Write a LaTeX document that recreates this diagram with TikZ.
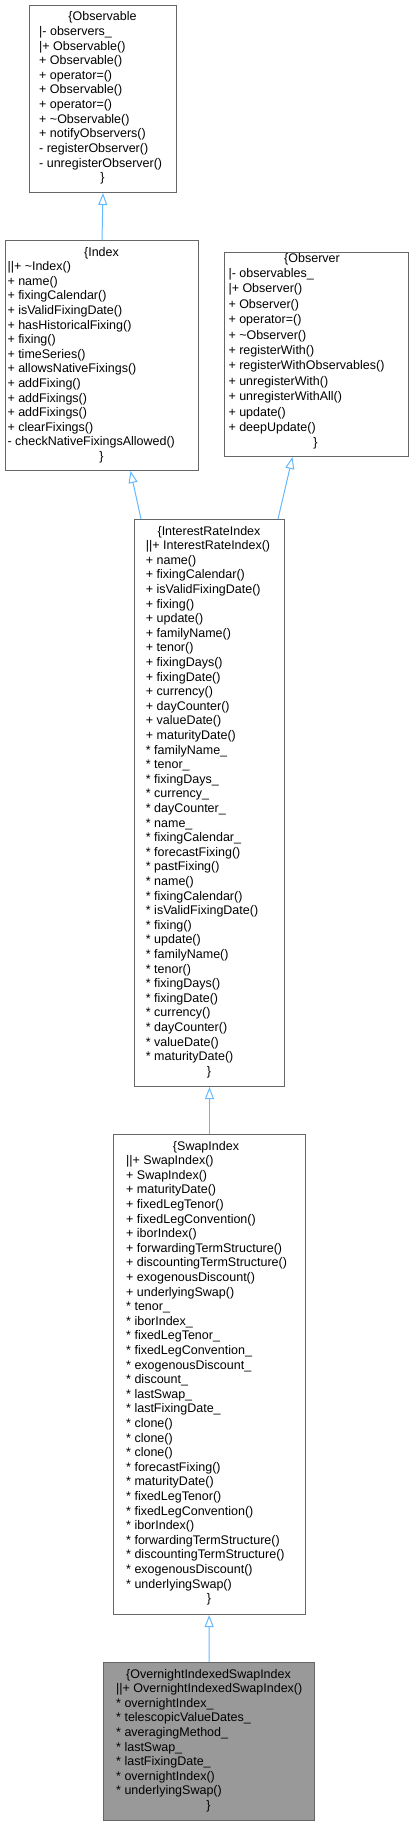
\documentclass[tikz,border=0pt]{standalone}
\usepackage{fontspec}
\setmainfont{Liberation Sans}
\usetikzlibrary{arrows.meta}
\definecolor{boxgray}{HTML}{666666}
\definecolor{leafgray}{HTML}{999999}
\definecolor{edgeblue}{HTML}{63B8FF}

\begin{document}
\begin{tikzpicture}[x=1pt,y=-1pt,
  class/.style={draw=boxgray,line width=1pt,fill=white,inner sep=0pt,anchor=north west},
  leaf/.style={class,fill=leafgray},
  title/.style={inner sep=0pt,anchor=base,font=\fontsize{12.5}{14.6}\selectfont},
  member/.style={inner sep=0pt,anchor=base west,font=\fontsize{12.5}{14.6}\selectfont},
  inherit/.style={draw=edgeblue,line width=1pt,-{Triangle[open,length=12pt,width=9pt]}}]
	\useasboundingbox (0,0) rectangle (413,1825);
	% class boxes
	\node[class,minimum width=147pt,minimum height=187pt] (observable) at (29,5) {};
	\node[class,minimum width=193pt,minimum height=230pt] (index) at (5,240) {};
	\node[class,minimum width=184pt,minimum height=204pt] (observer) at (224,252) {};
	\node[class,minimum width=150pt,minimum height=567pt] (irindex) at (134,519) {};
	\node[class,minimum width=192pt,minimum height=480pt] (swapindex) at (113,1134) {};
	\node[leaf,minimum width=211pt,minimum height=158pt] (oisindex) at (103,1662) {};
	% Observable
	\node[title] (observable name) at (102.5,21) {\{Observable};
	\foreach \m [count=\i] in {|- observers\_,|+ Observable(),+ Observable(),+ operator=(),
	  + Observable(),+ operator=(),+ \textasciitilde Observable(),+ notifyObservers(),
	  - registerObserver(),- unregisterObserver()}
	  \node[member] (observable \i) at (39,21+14.6*\i) {\m};
	\node[title] (observable end) at (102.5,21+14.6*11) {\}};
	% Index
	\node[title] (index name) at (101.5,256) {\{Index};
	\foreach \m [count=\i] in {||+ \textasciitilde Index(),+ name(),+ fixingCalendar(),
	  + isValidFixingDate(),+ hasHistoricalFixing(),+ fixing(),+ timeSeries(),
	  + allowsNativeFixings(),+ addFixing(),+ addFixings(),+ addFixings(),
	  + clearFixings(),- checkNativeFixingsAllowed()}
	  \node[member] (index \i) at (7.3,256+14.6*\i) {\m};
	\node[title] (index end) at (101.5,256+14.6*14) {\}};
	% Observer
	\node[title] (observer name) at (312,262) {\{Observer};
	\foreach \m [count=\i] in {|- observables\_,|+ Observer(),+ Observer(),+ operator=(),
	  + \textasciitilde Observer(),+ registerWith(),+ registerWithObservables(),
	  + unregisterWith(),+ unregisterWithAll(),+ update(),+ deepUpdate()}
	  \node[member] (observer \i) at (228.3,262+15.4*\i) {\m};
	\node[title] (observer end) at (315.5,262+15.4*12) {\}};
	% InterestRateIndex
	\node[title] (irindex name) at (209,535) {\{InterestRateIndex};
	\foreach \m [count=\i] in {||+ InterestRateIndex(),+ name(),+ fixingCalendar(),
	  + isValidFixingDate(),+ fixing(),+ update(),+ familyName(),+ tenor(),
	  + fixingDays(),+ fixingDate(),+ currency(),+ dayCounter(),+ valueDate(),
	  + maturityDate(),* familyName\_,* tenor\_,* fixingDays\_,* currency\_,
	  * dayCounter\_,* name\_,* fixingCalendar\_,* forecastFixing(),* pastFixing(),
	  * name(),* fixingCalendar(),* isValidFixingDate(),* fixing(),* update(),
	  * familyName(),* tenor(),* fixingDays(),* fixingDate(),* currency(),
	  * dayCounter(),* valueDate(),* maturityDate()}
	  \node[member] (irindex \i) at (145.7,535+14.6*\i) {\m};
	\node[title] (irindex end) at (209,535+14.6*37) {\}};
	% SwapIndex
	\node[title] (swapindex name) at (206,1150) {\{SwapIndex};
	\foreach \m [count=\i] in {||+ SwapIndex(),+ SwapIndex(),+ maturityDate(),
	  + fixedLegTenor(),+ fixedLegConvention(),+ iborIndex(),
	  + forwardingTermStructure(),+ discountingTermStructure(),
	  + exogenousDiscount(),+ underlyingSwap(),* tenor\_,* iborIndex\_,
	  * fixedLegTenor\_,* fixedLegConvention\_,* exogenousDiscount\_,* discount\_,
	  * lastSwap\_,* lastFixingDate\_,* clone(),* clone(),* clone(),
	  * forecastFixing(),* maturityDate(),* fixedLegTenor(),* fixedLegConvention(),
	  * iborIndex(),* forwardingTermStructure(),* discountingTermStructure(),
	  * exogenousDiscount(),* underlyingSwap()}
	  \node[member] (swapindex \i) at (126,1150+14.6*\i) {\m};
	\node[title] (swapindex end) at (209,1150+14.6*31) {\}};
	% OvernightIndexedSwapIndex
	\node[title] (oisindex name) at (208.5,1678) {\{OvernightIndexedSwapIndex};
	\foreach \m [count=\i] in {||+ OvernightIndexedSwapIndex(),* overnightIndex\_,
	  * telescopicValueDates\_,* averagingMethod\_,* lastSwap\_,* lastFixingDate\_,
	  * overnightIndex(),* underlyingSwap()}
	  \node[member] (oisindex \i) at (116,1678+14.6*\i) {\m};
	\node[title] (oisindex end) at (208.5,1678+14.6*9) {\}};
	% inheritance
	\draw[inherit] (index.north) -- (observable.south);
	\draw[inherit] ([xshift=7pt]irindex.north west) -- ([xshift=28.5pt]index.south);
	\draw[inherit] ([xshift=-7pt]irindex.north east) -- ([xshift=-24pt]observer.south);
	\draw[inherit] (swapindex) -- (irindex);
	\draw[inherit] (oisindex) -- (swapindex);
\end{tikzpicture}
\end{document}
